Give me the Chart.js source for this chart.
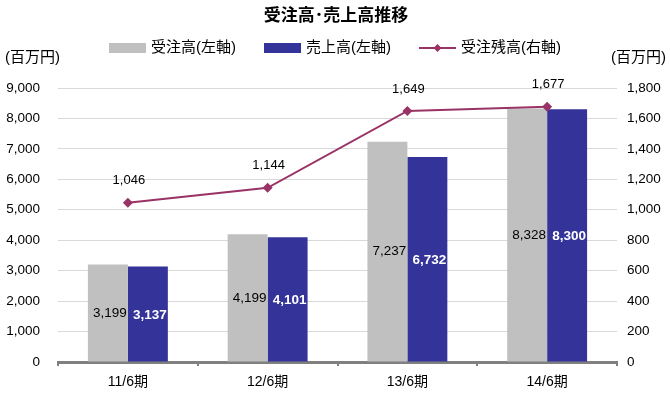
<!DOCTYPE html>
<html><head><meta charset="utf-8">
<script src="https://cdn.jsdelivr.net/npm/chart.js@4"></script>
<style>html,body{margin:0;padding:0;background:#fff}#wrap{width:670px;height:396px;position:relative}</style>
</head><body><div id="wrap"><canvas id="c" width="670" height="396"></canvas></div>
<script>
const categories = ['11/6期', '12/6期', '13/6期', '14/6期'];
const orders = [3199, 4199, 7237, 8328];
const sales = [3137, 4101, 6732, 8300];
const backlog = [1046, 1144, 1649, 1677];
const seriesNames = ['受注高(左軸)', '売上高(左軸)', '受注残高(右軸)'];
const chartTitle = '受注高･売上高推移';
const unitLabel = '(百万円)';

const FONT = "'Liberation Sans', 'Noto Sans CJK JP', sans-serif";
const GRAY = '#c0c0c0', BLUE = '#333399', LINE = '#993366';
const fmt = v => Number(v).toLocaleString('en-US');

const decorPlugin = {
  id: 'decor',
  afterDraw(chart) {
    const ctx = chart.ctx;
    ctx.save();
    ctx.fillStyle = '#000';
    ctx.font = "bold 17px " + FONT;
    ctx.textAlign = 'center';
    ctx.textBaseline = 'middle';
    ctx.fillText(chartTitle, 336, 16);
    ctx.font = "15px " + FONT;
    ctx.textAlign = 'left';
    ctx.fillText(unitLabel, 5, 58);
    ctx.textAlign = 'right';
    ctx.fillText(unitLabel, 666, 58);
    ctx.font = "15px " + FONT;
    const boxW = 37, gap = 5, spacing = 28;
    const widths = seriesNames.map(t => ctx.measureText(t).width);
    let total = 0;
    widths.forEach((w, i) => { total += boxW + gap + w + (i < widths.length - 1 ? spacing : 0); });
    let x = 335 - total / 2;
    const y = 48;
    ctx.textAlign = 'left';
    seriesNames.forEach((t, i) => {
      if (i < 2) {
        ctx.fillStyle = i === 0 ? GRAY : BLUE;
        ctx.fillRect(x, y - 5, boxW, 10);
      } else {
        ctx.strokeStyle = LINE;
        ctx.lineWidth = 2;
        ctx.beginPath(); ctx.moveTo(x, y); ctx.lineTo(x + boxW, y); ctx.stroke();
        ctx.fillStyle = LINE;
        const cx = x + boxW / 2;
        ctx.beginPath(); ctx.moveTo(cx, y - 4); ctx.lineTo(cx + 4, y); ctx.lineTo(cx, y + 4); ctx.lineTo(cx - 4, y); ctx.closePath(); ctx.fill();
      }
      ctx.fillStyle = '#000';
      ctx.fillText(t, x + boxW + gap, y);
      x += boxW + gap + widths[i] + spacing;
    });
    ctx.restore();
  }
};

const labelPlugin = {
  id: 'valueLabels',
  afterDatasetsDraw(chart) {
    const ctx = chart.ctx;
    ctx.save();
    ctx.textAlign = 'center';
    ctx.textBaseline = 'middle';
    chart.data.datasets.forEach((ds, i) => {
      const meta = chart.getDatasetMeta(i);
      meta.data.forEach((el, j) => {
        const txt = fmt(ds.data[j]);
        if (ds.type === 'line') {
          ctx.font = "13px " + FONT;
          ctx.fillStyle = '#000';
          ctx.fillText(txt, el.x + 1, el.y - 22);
        } else if (i === 0) {
          ctx.font = "13.5px " + FONT;
          ctx.fillStyle = '#000';
          ctx.fillText(txt, el.x + 2, (el.y + el.base) / 2);
        } else {
          ctx.font = "bold 13.5px " + FONT;
          ctx.fillStyle = '#fff';
          ctx.fillText(txt, el.x + 2, (el.y + el.base) / 2 + 1);
        }
      });
    });
    ctx.restore();
  }
};

new Chart(document.getElementById('c'), {
  data: {
    labels: categories,
    datasets: [
      { type: 'bar', label: seriesNames[0], data: orders, backgroundColor: GRAY, yAxisID: 'y', order: 2,
        categoryPercentage: 0.572, barPercentage: 1 },
      { type: 'bar', label: seriesNames[1], data: sales, backgroundColor: BLUE, yAxisID: 'y', order: 2,
        categoryPercentage: 0.572, barPercentage: 1 },
      { type: 'line', label: seriesNames[2], data: backlog, borderColor: LINE, backgroundColor: LINE, borderWidth: 2,
        pointStyle: 'rectRot', pointRadius: 5, pointBorderWidth: 0, yAxisID: 'y1', order: 0, tension: 0 }
    ]
  },
  options: {
    responsive: false,
    animation: false,
    devicePixelRatio: 1,
    layout: { padding: { top: 88, left: 0, right: 0, bottom: 0 } },
    plugins: { legend: { display: false }, title: { display: false }, tooltip: { enabled: false } },
    scales: {
      x: {
        offset: true,
        grid: { display: true, drawOnChartArea: false, drawTicks: true, tickLength: 4, color: '#808080', lineWidth: 2, offset: true },
        border: { display: true, color: '#808080', width: 3 },
        ticks: { color: '#000', font: { family: FONT, size: 14 }, padding: 8 },
        afterFit(s) { s.height = 34; }
      },
      y: {
        position: 'left', min: 0, max: 9000,
        ticks: { stepSize: 1000, padding: 18, color: '#000', font: { family: FONT, size: 13.5 }, callback: v => fmt(v) },
        grid: { color: '#d9d9d9', lineWidth: 1, drawTicks: false },
        border: { display: false },
        afterFit(s) { s.width = 58; }
      },
      y1: {
        position: 'right', min: 0, max: 1800,
        ticks: { stepSize: 200, padding: 10, color: '#000', font: { family: FONT, size: 13.5 }, callback: v => fmt(v) },
        grid: { display: false, drawTicks: false },
        border: { display: false },
        afterFit(s) { s.width = 53; }
      }
    }
  },
  plugins: [labelPlugin, decorPlugin]
});
</script>
</body></html>
